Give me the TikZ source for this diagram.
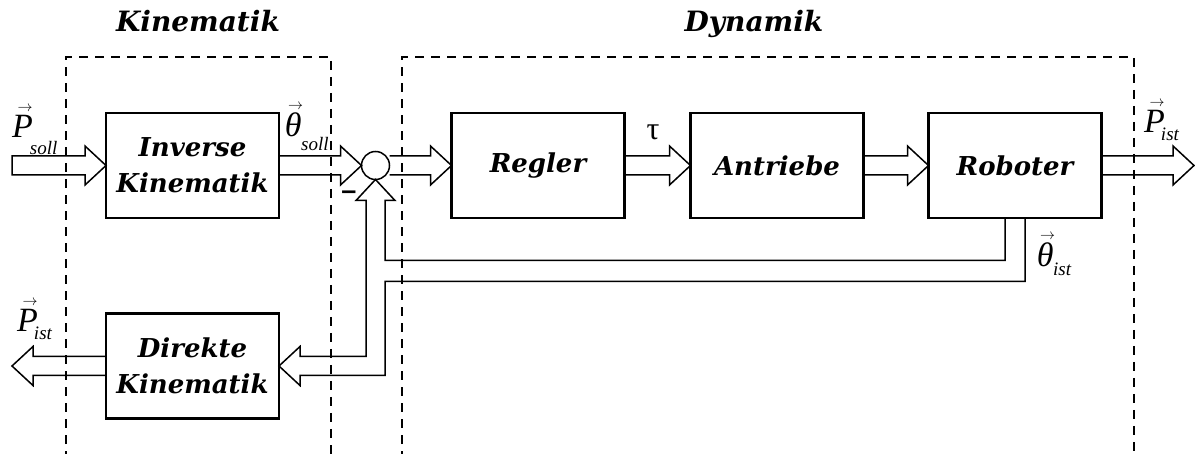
\documentclass[tikz,border=0pt]{standalone}
\usepackage{fontspec}
\newfontfamily\tms{Liberation Serif}
\newfontfamily\sns{Liberation Sans}
\newfontfamily\djs{DejaVu Serif}
\usetikzlibrary{calc}

% fonts for block captions, zone titles and signal labels
\newcommand\blkfont{\djs\fontsize{26}{36}\selectfont\bfseries\itshape}
\newcommand\ttlfont{\djs\fontsize{28}{34}\selectfont\bfseries\itshape}
\newcommand\sigfont{\fontsize{34}{34}\selectfont}

% small vector arrow set over a symbol
\newcommand\vecarrow{\scalebox{1.5}{\fontsize{10}{10}\selectfont$\rightarrow$}}
\newcommand\vsym[1]{\leavevmode\vbox{\offinterlineskip\halign{\hfil##\hfil\cr
  \kern5pt\vecarrow\cr\noalign{\kern4pt}{\tms\itshape #1}\cr}}}
% vector signal label: symbol, index, kern before index, drop of index
\newcommand\vlab[4]{\vsym{#1}\kern#3\raisebox{-#4}{\tms\itshape\fontsize{19}{19}\selectfont #2}}

% hollow block arrows (shaft half width 9.5, head half width 19.5, head length 21)
\newcommand\flowR[2]{\draw[flow] ($(#1)+(0,-9.5)$) -- ($(#2)+(-21,-9.5)$) -- ($(#2)+(-21,-19.5)$) -- (#2)
  -- ($(#2)+(-21,19.5)$) -- ($(#2)+(-21,9.5)$) -- ($(#1)+(0,9.5)$);}
\newcommand\flowL[2]{\draw[flow] ($(#1)+(0,-9.5)$) -- ($(#2)+(21,-9.5)$) -- ($(#2)+(21,-19.5)$) -- (#2)
  -- ($(#2)+(21,19.5)$) -- ($(#2)+(21,9.5)$) -- ($(#1)+(0,9.5)$);}

\tikzset{
  blk/.style={draw, line width=2.2pt, minimum width=173pt, minimum height=105pt,
    inner sep=0pt, outer sep=0pt, align=center, font=\blkfont},
  flow/.style={line width=1.5pt, line join=miter},
  zone/.style={line width=1.3pt, dash pattern=on 9pt off 7pt},
  ttl/.style={font=\ttlfont, anchor=base, inner sep=0pt},
  sig/.style={font=\sigfont, anchor=base west, inner sep=0pt},
}

\begin{document}
\begin{tikzpicture}[x=1pt, y=-1pt]
\useasboundingbox (0,0) rectangle (1195,454);

% dashed zones with their titles
\draw[zone] (66,460) |- (331,57) -- (331,460);
\draw[zone] (402,460) |- (1134,57) -- (1134,460);
\node[ttl] (kin) at (198,32) {Kinematik};
\node[ttl] (dyn) at (754,32) {Dynamik};

% blocks
\node[blk] (ik)  at (192.5,165.5) {Inverse\\Kinematik};
\node[blk] (dk)  at (192.5,366)   {Direkte\\Kinematik};
\node[blk] (reg) at (538,165.5)   {Regler};
\node[blk] (ant) at (777,165.5)   {Antriebe};
\node[blk] (rob) at (1015,165.5)  {Roboter};
\node[draw, circle, line width=1.5pt, minimum size=28pt, inner sep=0pt, outer sep=0pt] (sum) at (375.5,165.5) {};

% free ends of the outer signals
\coordinate (pin)  at (12,165.5);
\coordinate (pout) at (1194,165.5);
\coordinate (pback) at (12,366);

% forward path
\draw[flow] ($(pin)+(0,-9.5)$) -- ($(ik.west)+(-21,-9.5)$) -- ($(ik.west)+(-21,-19.5)$) -- (ik.west)
  -- ($(ik.west)+(-21,19.5)$) -- ($(ik.west)+(-21,9.5)$) -- ($(pin)+(0,9.5)$) -- cycle;
\flowR{ik.east}{sum.west}
\flowR{sum.east}{reg.west}
\flowR{reg.east}{ant.west}
\flowR{ant.east}{rob.west}
\flowR{rob.east}{pout}
\flowL{dk.west}{pback}

% measured joint angles fed back to the summing point and to the direct kinematics
\draw[flow]
  ($(rob.south)+(-10,0)$) |- ($(sum.south)+(9.5,81)$)
  -- ($(sum.south)+(9.5,21)$) -- ++(10,0) -- (sum.south) -- ++(-19.5,21) -- ++(10,0)
  |- ($(dk.east)+(21,-9.5)$) -- ++(0,-10) -- (dk.east) -- ++(21,19.5) -- ++(0,-10)
  -| ($(sum.south)+(9.5,102)$) -| ($(rob.south)+(10,0)$);

% signal labels
\node[sig] (lpsoll) at (12,138)   {\vlab{P}{soll}{-3pt}{17pt}};
\node[sig] (ltsoll) at (283,137)  {\vlab{θ}{soll}{-2pt}{14pt}};
\node[sig] (lpist)  at (1144,133) {\vlab{P}{ist}{-4pt}{8pt}};
\node[sig] (lpback) at (17,332)   {\vlab{P}{ist}{-4pt}{8pt}};
\node[sig] (ltist)  at (1035,267) {\vlab{θ}{ist}{-2pt}{9pt}};
\node[font=\tms\fontsize{32}{32}\selectfont, inner sep=0pt] (tau) at (653,132) {τ};
\node[font=\sns\bfseries\fontsize{27}{27}\selectfont, anchor=base, inner sep=0pt] (minus) at (349,200) {–};
\end{tikzpicture}
\end{document}
